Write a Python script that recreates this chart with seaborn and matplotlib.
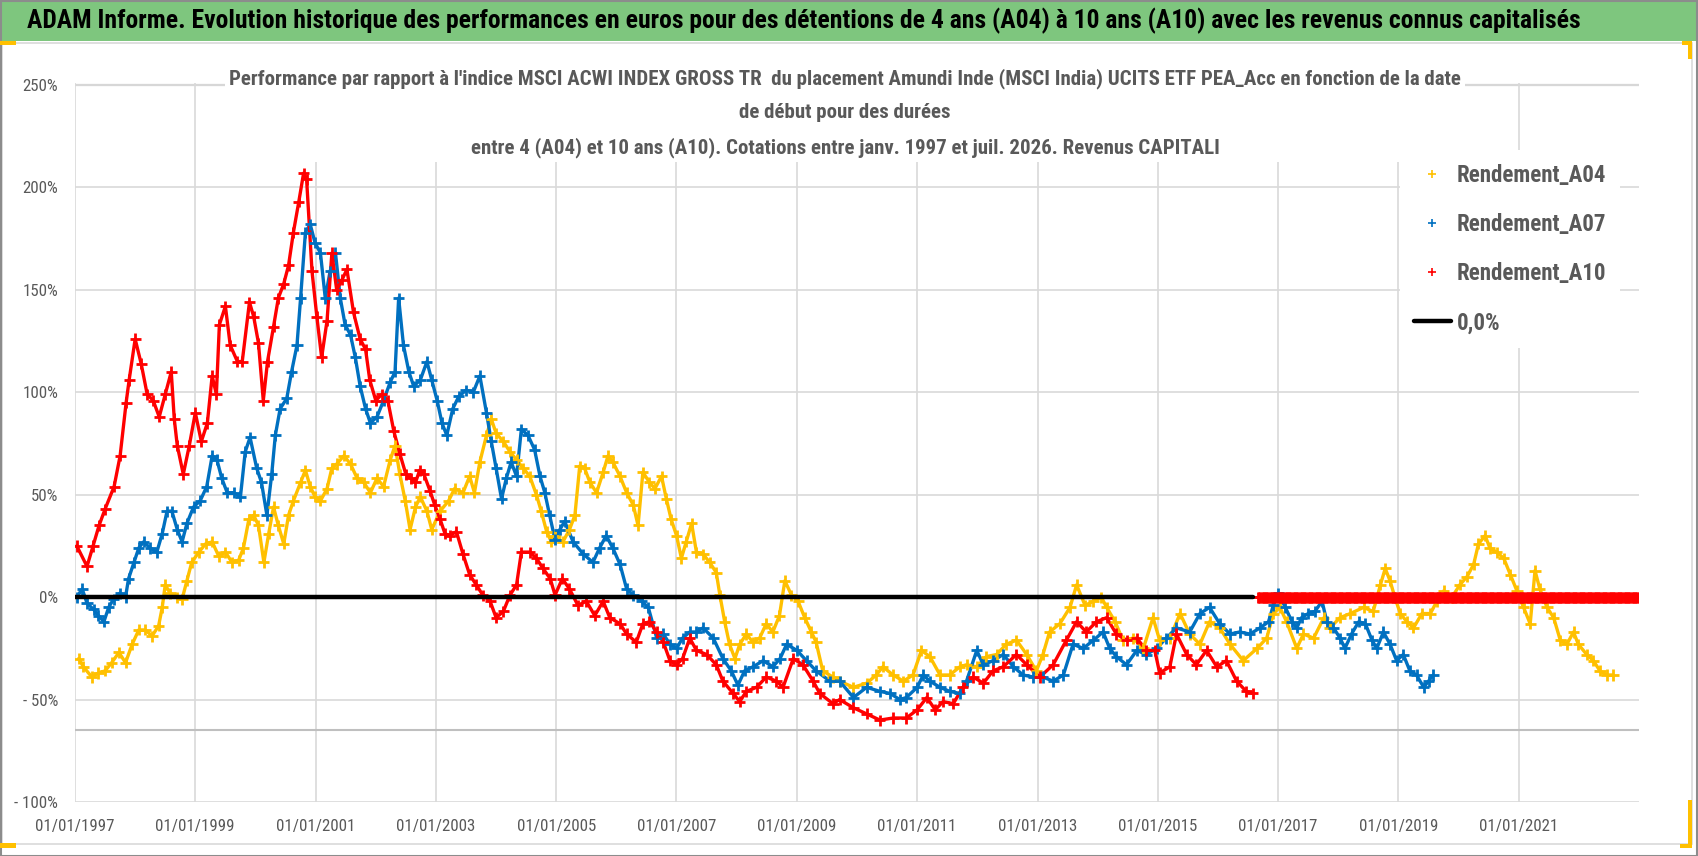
import matplotlib
matplotlib.use("Agg")
import matplotlib.pyplot as plt
import matplotlib.dates as mdates
from matplotlib import font_manager
from matplotlib.lines import Line2D
from matplotlib.patches import Rectangle
from matplotlib.ticker import FixedLocator, FuncFormatter
import numpy as np
import pandas as pd
import seaborn as sns

# ---- data (start date as decimal year, performance in %) ----
A04_YEARS = [
    1997.06, 1997.14, 1997.28, 1997.39, 1997.50, 1997.61, 1997.73, 1997.84, 1997.95,
    1998.06, 1998.17, 1998.28, 1998.39, 1998.45, 1998.50, 1998.58, 1998.70, 1998.78, 1998.86, 1998.94,
    1999.06, 1999.17, 1999.28, 1999.39, 1999.50, 1999.61, 1999.72, 1999.80, 1999.89, 1999.97,
    2000.05, 2000.14, 2000.22, 2000.30, 2000.38, 2000.47, 2000.55, 2000.63, 2000.75, 2000.83, 2000.91, 2000.99,
    2001.08, 2001.19, 2001.27, 2001.35, 2001.47, 2001.58, 2001.69, 2001.80, 2001.91,
    2002.02, 2002.13, 2002.24, 2002.32, 2002.40, 2002.49, 2002.57, 2002.66, 2002.74, 2002.85, 2002.93,
    2003.07, 2003.21, 2003.31, 2003.45, 2003.56, 2003.64, 2003.73, 2003.84, 2003.92,
    2004.00, 2004.12, 2004.23, 2004.34, 2004.45, 2004.56, 2004.67, 2004.75, 2004.84, 2004.92, 2004.98,
    2005.11, 2005.22, 2005.31, 2005.39, 2005.47, 2005.56, 2005.67, 2005.78, 2005.86, 2005.94,
    2006.06, 2006.17, 2006.28, 2006.36, 2006.44, 2006.55, 2006.64, 2006.75, 2006.83, 2006.91,
    2007.00, 2007.08, 2007.16, 2007.25, 2007.33, 2007.44, 2007.55, 2007.66, 2007.72, 2007.80, 2007.88, 2007.97,
    2008.05, 2008.16, 2008.27, 2008.38, 2008.49, 2008.60, 2008.71, 2008.80, 2008.91,
    2009.02, 2009.13, 2009.24, 2009.32, 2009.43, 2009.60, 2009.71, 2009.94,
    2010.16, 2010.32, 2010.43, 2010.60, 2010.77, 2010.93,
    2011.07, 2011.21, 2011.38, 2011.54, 2011.71, 2011.82, 2011.99,
    2012.15, 2012.32, 2012.48, 2012.65, 2012.82, 2012.98,
    2013.09, 2013.20, 2013.37, 2013.54, 2013.65, 2013.79, 2013.93,
    2014.06, 2014.15, 2014.29, 2014.42, 2014.59, 2014.76, 2014.92,
    2015.03, 2015.20, 2015.37, 2015.53, 2015.70, 2015.86,
    2016.03, 2016.20, 2016.42, 2016.65, 2016.81, 2016.92,
    2017.03, 2017.14, 2017.31, 2017.42, 2017.59, 2017.76, 2017.86,
    2018.03, 2018.20, 2018.42, 2018.58, 2018.70, 2018.78, 2018.86, 2018.94,
    2019.03, 2019.14, 2019.25, 2019.39, 2019.53, 2019.64, 2019.75, 2019.89,
    2020.02, 2020.14, 2020.25, 2020.33, 2020.44, 2020.52, 2020.63, 2020.75, 2020.86, 2020.97,
    2021.08, 2021.19, 2021.27, 2021.35, 2021.47, 2021.58, 2021.69, 2021.80, 2021.91, 2021.99,
    2022.13, 2022.24, 2022.35, 2022.46, 2022.57,
]
A04_VALUES = [
    -30, -34, -39, -37, -36, -32, -27, -32, -23,
    -16, -16, -19, -14, -5, 6, 2, 0, -1, 8, 17,
    22, 26, 27, 20, 22, 17, 18, 24, 38, 40,
    35, 17, 31, 44, 35, 26, 40, 47, 56, 62, 54, 49,
    47, 53, 63, 65, 69, 65, 58, 56, 51,
    58, 54, 67, 74, 60, 47, 33, 44, 49, 42, 33,
    42, 47, 53, 51, 59, 51, 66, 79, 87,
    80, 76, 71, 67, 63, 59, 50, 42, 32, 27, 30,
    27, 33, 40, 64, 63, 56, 51, 61, 69, 66,
    59, 51, 45, 35, 61, 56, 53, 59, 48, 38,
    30, 19, 27, 36, 22, 21, 17, 12, 1, -12, -23, -30,
    -23, -18, -22, -20, -13, -17, -9, 8, 1,
    -2, -10, -17, -22, -36, -39, -41, -44,
    -42, -38, -34, -38, -41, -38,
    -26, -29, -38, -38, -34, -33, -34,
    -29, -28, -23, -21, -28, -36,
    -28, -17, -13, -5, 6, -4, -2,
    0, -5, -12, -21, -20, -25, -10,
    -21, -20, -8, -18, -23, -12,
    -15, -23, -31, -25, -20, -8,
    -5, -12, -25, -18, -20, -10, -15,
    -10, -8, -5, -7, 6, 14, 8, 0,
    -8, -12, -15, -8, -8, -2, 3, 0,
    6, 10, 16, 26, 30, 24, 22, 19, 11, 3,
    -5, -13, 13, 4, -5, -10, -21, -23, -17, -23,
    -28, -31, -36, -38, -38,
]

A07_YEARS = [
    1997.03, 1997.12, 1997.20, 1997.31, 1997.39, 1997.48, 1997.56, 1997.64, 1997.75, 1997.84, 1997.89, 1997.98,
    1998.06, 1998.14, 1998.25, 1998.36, 1998.45, 1998.53, 1998.61, 1998.70, 1998.78, 1998.86, 1998.97,
    1999.08, 1999.19, 1999.28, 1999.36, 1999.44, 1999.53, 1999.64, 1999.75, 1999.83, 1999.91,
    2000.02, 2000.10, 2000.19, 2000.27, 2000.33, 2000.41, 2000.52, 2000.60, 2000.69, 2000.75, 2000.83, 2000.91, 2000.99,
    2001.08, 2001.16, 2001.24, 2001.33, 2001.41, 2001.49, 2001.58, 2001.66, 2001.74, 2001.83, 2001.91,
    2002.02, 2002.13, 2002.24, 2002.32, 2002.38, 2002.46, 2002.55, 2002.63, 2002.74, 2002.85, 2002.93,
    2003.02, 2003.10, 2003.18, 2003.28, 2003.38, 2003.50, 2003.62, 2003.73, 2003.84, 2003.92,
    2004.00, 2004.09, 2004.17, 2004.25, 2004.34, 2004.42, 2004.53, 2004.64, 2004.73, 2004.81, 2004.89, 2004.98,
    2005.06, 2005.14, 2005.28, 2005.45, 2005.61, 2005.72, 2005.83, 2005.94,
    2006.06, 2006.17, 2006.28, 2006.42, 2006.53, 2006.67, 2006.78, 2006.89,
    2007.00, 2007.10, 2007.22, 2007.33, 2007.44, 2007.61, 2007.77, 2007.91,
    2008.02, 2008.13, 2008.27, 2008.44, 2008.60, 2008.72, 2008.83,
    2009.00, 2009.16, 2009.32, 2009.55, 2009.71, 2009.94,
    2010.16, 2010.38, 2010.55, 2010.71, 2010.82,
    2011.00, 2011.10, 2011.21, 2011.38, 2011.54, 2011.71, 2011.82, 2011.99,
    2012.10, 2012.26, 2012.43, 2012.60, 2012.76, 2012.93,
    2013.09, 2013.26, 2013.43, 2013.59, 2013.76, 2013.93,
    2014.09, 2014.20, 2014.31, 2014.48, 2014.65, 2014.81, 2014.98,
    2015.14, 2015.31, 2015.53, 2015.70, 2015.86,
    2016.03, 2016.20, 2016.36, 2016.53, 2016.70, 2016.84, 2016.92,
    2017.00, 2017.12, 2017.23, 2017.31, 2017.39, 2017.50, 2017.61, 2017.73, 2017.81, 2017.92,
    2018.03, 2018.11, 2018.22, 2018.34, 2018.45, 2018.56, 2018.64, 2018.75, 2018.86, 2018.97,
    2019.08, 2019.19, 2019.30, 2019.42, 2019.50, 2019.58,
]
A07_VALUES = [
    0, 4, -3, -6, -9, -12, -5, -1, 2, 0, 9, 17,
    24, 27, 24, 22, 31, 42, 42, 33, 27, 36, 44,
    47, 54, 69, 67, 58, 51, 51, 49, 71, 78,
    63, 56, 40, 60, 79, 92, 97, 110, 123, 146, 178, 182, 173,
    168, 146, 159, 168, 146, 133, 128, 117, 103, 92, 85,
    88, 96, 105, 110, 146, 123, 110, 103, 106, 115, 106,
    96, 85, 79, 92, 98, 101, 100, 108, 90, 76,
    63, 48, 58, 66, 59, 82, 79, 72, 59, 51, 40, 28,
    33, 37, 27, 21, 17, 24, 30, 24,
    16, 4, 1, -2, -5, -20, -18, -23,
    -25, -20, -17, -17, -15, -20, -30, -36,
    -43, -36, -34, -31, -34, -30, -23,
    -26, -31, -36, -41, -41, -49,
    -44, -46, -47, -50, -49,
    -44, -38, -41, -44, -46, -47, -41, -26,
    -33, -31, -28, -34, -38, -39,
    -39, -41, -38, -23, -25, -21,
    -17, -25, -29, -33, -26, -28, -25,
    -20, -15, -17, -8, -5,
    -13, -18, -17, -18, -15, -12, -4,
    2, -5, -12, -15, -10, -8, -7, -2, -12, -15,
    -20, -25, -18, -12, -13, -21, -25, -17, -23, -31,
    -28, -36, -38, -44, -41, -38,
]

A10_YEARS = [
    1997.03, 1997.20, 1997.30, 1997.40, 1997.50, 1997.65, 1997.75, 1997.85, 1997.90,
    1998.00, 1998.10, 1998.20, 1998.30, 1998.40, 1998.50, 1998.60, 1998.65, 1998.70, 1998.80, 1998.90,
    1999.00, 1999.10, 1999.20, 1999.28, 1999.35, 1999.40, 1999.50, 1999.58, 1999.70, 1999.78, 1999.90, 1999.97,
    2000.05, 2000.13, 2000.20, 2000.30, 2000.38, 2000.47, 2000.55, 2000.63, 2000.72, 2000.80, 2000.85, 2000.94,
    2001.02, 2001.10, 2001.19, 2001.27, 2001.35, 2001.44, 2001.52, 2001.63, 2001.74, 2001.83, 2001.90,
    2002.00, 2002.10, 2002.20, 2002.30, 2002.40, 2002.50, 2002.58, 2002.66, 2002.73, 2002.80, 2002.90, 2002.98,
    2003.07, 2003.15, 2003.23, 2003.34, 2003.45, 2003.56, 2003.67, 2003.78, 2003.90,
    2004.00, 2004.12, 2004.23, 2004.34, 2004.42, 2004.56, 2004.67, 2004.78, 2004.90, 2004.98,
    2005.10, 2005.22, 2005.36, 2005.50, 2005.64, 2005.78, 2005.89,
    2006.06, 2006.17, 2006.33, 2006.44, 2006.55, 2006.67, 2006.78, 2006.89,
    2007.00, 2007.10, 2007.22, 2007.33, 2007.50, 2007.66, 2007.77, 2007.94,
    2008.05, 2008.16, 2008.33, 2008.49, 2008.66, 2008.77, 2008.94,
    2009.10, 2009.27, 2009.38, 2009.60, 2009.71, 2009.94,
    2010.16, 2010.38, 2010.60, 2010.82,
    2011.00, 2011.16, 2011.30, 2011.43, 2011.60, 2011.76, 2011.93,
    2012.10, 2012.26, 2012.43, 2012.65, 2012.82,
    2013.04, 2013.26, 2013.48, 2013.65, 2013.81, 2013.98,
    2014.15, 2014.31, 2014.48, 2014.65, 2014.81, 2014.95,
    2015.03, 2015.20, 2015.31, 2015.48, 2015.64, 2015.81, 2015.98,
    2016.14, 2016.31, 2016.47, 2016.58,
]
A10_VALUES = [
    25, 15, 25, 35, 43, 54, 69, 95, 106,
    126, 114, 99, 96, 88, 99, 110, 87, 74, 60, 74,
    90, 76, 85, 108, 99, 133, 142, 123, 115, 115, 144, 137,
    124, 96, 115, 132, 146, 153, 162, 178, 193, 207, 204, 159,
    137, 117, 135, 168, 150, 155, 160, 139, 126, 121, 106,
    96, 99, 96, 81, 70, 60, 58, 56, 62, 60, 52, 45,
    38, 31, 30, 32, 21, 11, 6, 1, -2,
    -10, -7, 1, 6, 22, 22, 19, 14, 9, 1,
    9, 4, -4, -2, -9, -2, -10,
    -13, -18, -22, -13, -12, -17, -22, -31,
    -33, -30, -20, -26, -28, -33, -41, -47,
    -51, -46, -44, -39, -41, -44, -30,
    -33, -41, -47, -52, -50, -54,
    -57, -60, -59, -59,
    -55, -49, -55, -51, -52, -44, -39,
    -42, -36, -34, -28, -33,
    -39, -33, -21, -12, -17, -12,
    -10, -18, -21, -20, -26, -26,
    -37, -34, -18, -28, -33, -26, -34,
    -31, -41, -46, -47,
]
# after mid-2016 the 10-year series sits flat on 0 %
A10_ZERO_START = "2016-09-01"
A10_ZERO_END = "2022-12-31"
A10_ZERO_VALUE = 0.0

# black reference line "0,0%"
ZERO_LINE_DATES = ["1997-01-01", "2016-08-01"]
ZERO_LINE_VALUES = [0.0, 0.0]

SERIES = ["Rendement_A04", "Rendement_A07", "Rendement_A10"]
COLORS = ["#FFC000", "#0070C0", "#FF0000"]
ZERO_LABEL = "0,0%"

X_TICKS = ["1997-01-01", "1999-01-01", "2001-01-01", "2003-01-01", "2005-01-01", "2007-01-01",
           "2009-01-01", "2011-01-01", "2013-01-01", "2015-01-01", "2017-01-01", "2019-01-01",
           "2021-01-01"]
X_LIMITS = ["1997-01-01", "2023-01-01"]
Y_TICKS = [-100, -50, 0, 50, 100, 150, 200, 250]
AXIS_LINE_VALUE = -65

HEADER = ("ADAM Informe. Evolution historique des performances en euros pour des détentions "
          "de 4 ans (A04) à 10 ans (A10) avec les revenus connus capitalisés")
SUBTITLE = ("Performance par rapport à l'indice MSCI ACWI INDEX GROSS TR  du placement Amundi Inde "
            "(MSCI India) UCITS ETF PEA_Acc en fonction de la date\n"
            "de début pour des durées\n"
            "entre 4 (A04) et 10 ans (A10). Cotations entre janv. 1997 et juil. 2026. Revenus CAPITALI")


def years_to_dates(years):
    years = np.asarray(years, dtype=float)
    return pd.Timestamp("1997-01-01") + pd.to_timedelta((years - 1997.0) * 365.25, unit="D")


def fit_width(fig, txt, target_px):
    """Rescale a text so that its rendered width matches the reference."""
    renderer = fig.canvas.get_renderer()
    width = txt.get_window_extent(renderer).width
    txt.set_fontsize(txt.get_fontsize() * target_px / width)
    return txt.get_fontsize()


frames = []
for name, yrs, vals in zip(SERIES, [A04_YEARS, A07_YEARS, A10_YEARS],
                           [A04_VALUES, A07_VALUES, A10_VALUES]):
    assert len(yrs) == len(vals), name
    frames.append(pd.DataFrame({"date": years_to_dates(yrs), "value": vals, "serie": name}))
read_df = pd.concat(frames, ignore_index=True)
zero_dates = pd.date_range(A10_ZERO_START, A10_ZERO_END, freq="7D")
zero_df = pd.DataFrame({"date": zero_dates, "value": A10_ZERO_VALUE, "serie": SERIES[2]})
df = pd.concat([read_df, zero_df], ignore_index=True)

sns.set_style("white")
installed = {f.name for f in font_manager.fontManager.ttflist}
family = next((f for f in ["Liberation Sans Narrow", "Roboto Condensed", "Lato", "Roboto"]
               if f in installed), "DejaVu Sans")
plt.rcParams["font.family"] = [family, "DejaVu Sans"]

W, H = 1698, 856
fig = plt.figure(figsize=(W / 100, H / 100), dpi=100)
fig.patch.set_facecolor("white")

# header band and frame
green = "#7EC67E"
fig.patches.append(Rectangle((0, 1 - 41 / H), 1, 41 / H, transform=fig.transFigure,
                             facecolor=green, edgecolor="none", zorder=0))
fig.patches.append(Rectangle((2 / W, 12 / H), 1 - 8 / W, 1 - 55 / H, transform=fig.transFigure,
                             fill=False, edgecolor="#d9d9d9", lw=1.2, zorder=0))
fig.patches.append(Rectangle((0.5 / W, 0.5 / H), 1 - 1.5 / W, 1 - 1.5 / H, transform=fig.transFigure,
                             fill=False, edgecolor="#8c8c8c", lw=1.5, zorder=0))
for (x0, y0, w, h) in [(0, 41, 16, 4), (0, 843, 16, 5), (1682, 41, 10, 4), (1688, 41, 4, 18),
                       (1688, 800, 4, 48), (1680, 844, 12, 4)]:
    fig.patches.append(Rectangle((x0 / W, 1 - (y0 + h) / H), w / W, h / H, transform=fig.transFigure,
                                 facecolor="#FFC000", edgecolor="none", zorder=1))

header = fig.text(27 / W, 1 - 21 / H, HEADER, ha="left", va="center", fontsize=18,
                  fontweight="bold", color="black")
fit_width(fig, header, 1551)

ax = fig.add_axes([75 / W, 1 - 802 / H, (1639 - 75) / W, (802 - 83) / H])
ax.set_facecolor("white")

# thin trace under the crosses so that each series reads as a dense band
for name, color in zip(SERIES, COLORS):
    sns.lineplot(data=read_df[read_df["serie"] == name], x="date", y="value", color=color,
                 lw=2.4, ax=ax, zorder=2, legend=False)
sns.scatterplot(data=df, x="date", y="value", hue="serie", hue_order=SERIES, palette=COLORS,
                marker="+", s=64, linewidth=2.0, legend=False, ax=ax, zorder=3)
sns.lineplot(x=pd.to_datetime(ZERO_LINE_DATES), y=ZERO_LINE_VALUES, color="black", lw=3.2,
             ax=ax, zorder=4)

ax.axhline(AXIS_LINE_VALUE, color="#bfbfbf", lw=1.5, zorder=1)
ax.set_xlim(pd.to_datetime(X_LIMITS))
# a hair of headroom so the 250 % gridline is drawn inside the axes, not on its edge
ax.set_ylim(Y_TICKS[0], Y_TICKS[-1] + 1)
ax.xaxis.set_major_locator(FixedLocator(mdates.date2num(pd.to_datetime(X_TICKS))))
ax.xaxis.set_major_formatter(mdates.DateFormatter("%d/%m/%Y"))
ax.yaxis.set_major_locator(FixedLocator(Y_TICKS))
ax.yaxis.set_major_formatter(FuncFormatter(lambda v, _: f"- {abs(v):.0f}%" if v < 0 else f"{v:.0f}%"))
ax.grid(True, color="#d9d9d9", lw=1.2)
ax.set_axisbelow(True)
ax.axhline(Y_TICKS[-1], color="#cfcfcf", lw=1.6, zorder=0.5)
for side in ax.spines.values():
    side.set_visible(False)
ax.set_xlabel("")
ax.set_ylabel("")

# tick font sized so that "01/01/1997" spans about 79 px like the reference
probe = fig.text(0, 0, "01/01/1997", fontsize=13)
tick_size = fit_width(fig, probe, 79)
probe.remove()
ax.tick_params(axis="both", length=0, labelsize=tick_size, labelcolor="#595959")
ax.tick_params(axis="x", pad=12)
ax.tick_params(axis="y", pad=12)

subtitle = fig.text(845 / W, 1 - 113 / H, SUBTITLE, ha="center", va="center", fontsize=16,
                    fontweight="bold", color="#595959", linespacing=1.95, zorder=5,
                    bbox=dict(facecolor="white", edgecolor="none", pad=3))
fit_width(fig, subtitle, 1230)

probe = fig.text(0, 0, "Rendement_A04", fontsize=16, fontweight="bold")
legend_size = fit_width(fig, probe, 149)
probe.remove()

handles = [Line2D([], [], ls="none", marker="+", ms=6, mew=1.2, color=c) for c in COLORS]
handles.append(Line2D([], [], color="black", lw=3.2))
leg = fig.legend(handles, SERIES + [ZERO_LABEL], loc="upper left",
                 bbox_to_anchor=(1389 / W, 1 - 139 / H), bbox_transform=fig.transFigure,
                 frameon=True, facecolor="white", edgecolor="none", framealpha=1,
                 fancybox=False, borderpad=0.6, handlelength=1.6, handletextpad=0.25,
                 labelspacing=1.14, prop={"size": legend_size, "weight": "bold"})
for t in leg.get_texts():
    t.set_color("#595959")

fig.savefig("out.png", dpi=100, facecolor="white")
